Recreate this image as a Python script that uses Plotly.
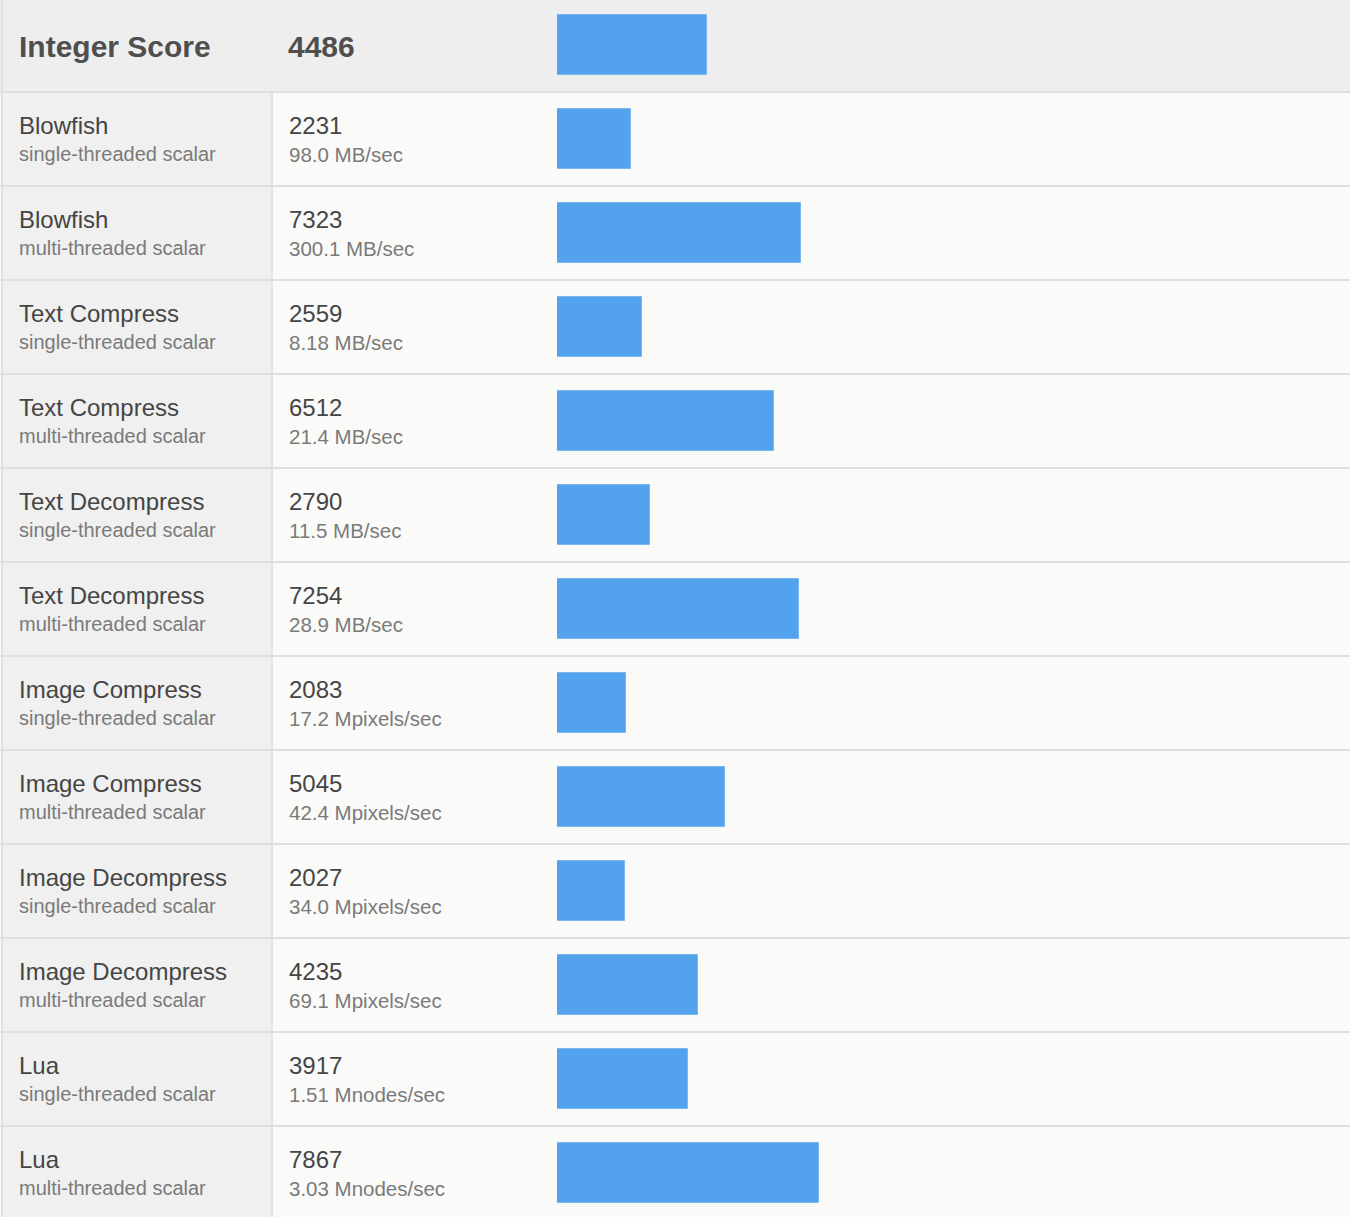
import plotly.graph_objects as go

# ---------------- data ----------------
header_label = "Integer Score"
header_score = 4486

tests = ["Blowfish", "Blowfish", "Text Compress", "Text Compress",
         "Text Decompress", "Text Decompress", "Image Compress", "Image Compress",
         "Image Decompress", "Image Decompress", "Lua", "Lua"]
modes = ["single-threaded scalar", "multi-threaded scalar"] * 6
scores = [2231, 7323, 2559, 6512, 2790, 7254, 2083, 5045, 2027, 4235, 3917, 7867]
rates = ["98.0 MB/sec", "300.1 MB/sec", "8.18 MB/sec", "21.4 MB/sec",
         "11.5 MB/sec", "28.9 MB/sec", "17.2 Mpixels/sec", "42.4 Mpixels/sec",
         "34.0 Mpixels/sec", "69.1 Mpixels/sec", "1.51 Mnodes/sec", "3.03 Mnodes/sec"]

# ---------------- layout constants (pixels) ----------------
W, H = 1350, 1217
HEADER_H = 92
ROW_H = 94
COL1_R = 272
BAR_X0 = 557
UNITS_PER_PX = 30.0
BAR_COLOR = "#52a2ee"
LINE_COLOR = "#dfdfdf"
FONT = "Liberation Sans"

n = len(tests)
row_tops = [HEADER_H + ROW_H * i for i in range(n)]
bar_centers = [45] + [t + 47 for t in row_tops]
bar_values = [header_score] + scores

fig = go.Figure()

fig.add_trace(go.Bar(
    x=bar_values, y=bar_centers, orientation="h",
    width=60, xaxis="x2", yaxis="y",
    marker=dict(color=BAR_COLOR, line=dict(color="#7ab6f0", width=1)),
    hoverinfo="skip", showlegend=False,
))

shapes = []
shapes.append(dict(type="rect", xref="x", yref="y", x0=0, x1=W, y0=0, y1=HEADER_H,
                   fillcolor="#eeeeee", line_width=0, layer="below"))
shapes.append(dict(type="rect", xref="x", yref="y", x0=2, x1=COL1_R, y0=HEADER_H, y1=H,
                   fillcolor="#f0f0f0", line_width=0, layer="below"))
shapes.append(dict(type="line", xref="x", yref="y", x0=2, x1=2, y0=0, y1=H,
                   line=dict(color=LINE_COLOR, width=2), layer="below"))
shapes.append(dict(type="line", xref="x", yref="y", x0=COL1_R, x1=COL1_R, y0=HEADER_H, y1=H,
                   line=dict(color="#e3e3e3", width=2), layer="below"))
for t in row_tops:
    shapes.append(dict(type="line", xref="x", yref="y", x0=0, x1=W, y0=t, y1=t,
                       line=dict(color=LINE_COLOR, width=2), layer="below"))

annotations = []
def ann(x, y, text, size, color, bold=False):
    annotations.append(dict(
        x=x, y=y, xref="x", yref="y", text=text, showarrow=False,
        xanchor="left", yanchor="middle", borderpad=0,
        font=dict(family=FONT, size=size, color=color,
                  weight="bold" if bold else "normal"),
    ))

ann(18, 46, header_label, 30, "#4f4f4f", bold=True)
ann(287, 46, str(header_score), 30, "#4f4f4f", bold=True)

for i in range(n):
    t = row_tops[i]
    ann(18, t + 33, tests[i], 24, "#454545")
    ann(18, t + 62, modes[i], 20, "#7a7a7a")
    ann(288, t + 33, str(scores[i]), 24, "#454545")
    ann(288, t + 62, rates[i], 20.5, "#7a7a7a")

fig.update_layout(
    width=W, height=H,
    margin=dict(l=0, r=0, t=0, b=0),
    paper_bgcolor="#fafaf9", plot_bgcolor="rgba(0,0,0,0)",
    xaxis=dict(range=[0, W], domain=[0, 1], visible=False, fixedrange=True),
    xaxis2=dict(range=[0, (W - BAR_X0) * UNITS_PER_PX],
                domain=[BAR_X0 / W, 1], anchor="y", visible=False, fixedrange=True),
    yaxis=dict(range=[H, 0], domain=[0, 1], visible=False, fixedrange=True),
    shapes=shapes, annotations=annotations,
    bargap=0,
)

fig.write_html("out.html", config={"displayModeBar": False},
               post_script="document.body.style.margin='0';document.body.style.overflow='hidden';")
